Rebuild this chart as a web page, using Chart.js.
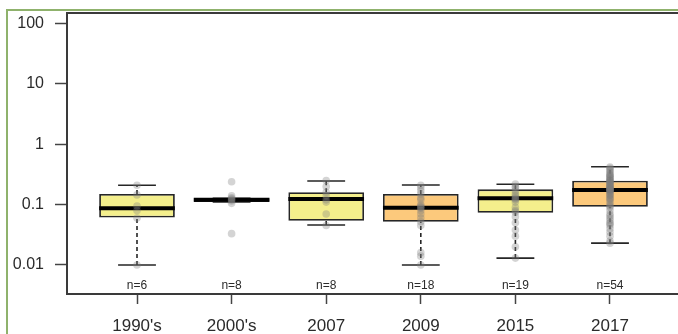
<!DOCTYPE html>
<html>
<head>
<meta charset="utf-8">
<script src="https://cdn.jsdelivr.net/npm/chart.js@4.4.1/dist/chart.umd.min.js"></script>
<style>
  html, body { margin: 0; padding: 0; background: #fff; width: 678px; height: 334px; overflow: hidden; }
  .frame { position: absolute; left: 6px; top: 9px; width: 720px; height: 400px; border-left: 2px solid #8fb26c; border-top: 2px solid #8fb26c; }
  #chart { position: absolute; left: 0; top: 0; }
</style>
</head>
<body>
<div class="frame"></div>
<canvas id="chart" width="700" height="334"></canvas>
<script>
const categories = ["1990's", "2000's", '2007', '2009', '2015', '2017'];
const boxColors = ['#f4ef8c', '#f4ef8c', '#f4ef8c', '#fcc97c', '#f4ef8c', '#fcc97c'];

// box statistics
const whiskerLow = [0.01, 0.111, 0.046, 0.01, 0.013, 0.023];
const q1 = [0.061, 0.111, 0.054, 0.052, 0.073, 0.092];
const median = [0.087, 0.12, 0.124, 0.089, 0.127, 0.175];
const q3 = [0.15, 0.127, 0.16, 0.15, 0.179, 0.249];
const whiskerHigh = [0.21, 0.127, 0.246, 0.211, 0.217, 0.425];

// individual samples (grey dots)
const p1990 = [0.21, 0.145, 0.095, 0.08, 0.06, 0.01];
const p2000 = [0.24, 0.14, 0.13, 0.125, 0.12, 0.115, 0.105, 0.033];
const p2007 = [0.25, 0.2, 0.16, 0.14, 0.12, 0.11, 0.07, 0.045];
const p2009 = [0.21, 0.19, 0.17, 0.15, 0.13, 0.12, 0.1, 0.095, 0.09, 0.088, 0.08, 0.07, 0.06, 0.052, 0.045, 0.016, 0.014, 0.01];
const p2015 = [0.22, 0.2, 0.19, 0.17, 0.15, 0.14, 0.13, 0.125, 0.12, 0.11, 0.09, 0.08, 0.075, 0.063, 0.05, 0.038, 0.03, 0.02, 0.013];
const p2017 = [0.42, 0.4, 0.38, 0.36, 0.34, 0.32, 0.31, 0.3, 0.29, 0.28, 0.27, 0.26, 0.25, 0.25,
  0.24, 0.235, 0.23, 0.22, 0.21, 0.205, 0.2, 0.195, 0.19, 0.185, 0.18, 0.178, 0.176,
  0.174, 0.17, 0.165, 0.16, 0.15, 0.145, 0.14, 0.13, 0.125, 0.12, 0.11, 0.1, 0.095,
  0.09, 0.08, 0.07, 0.065, 0.06, 0.055, 0.05, 0.048, 0.045, 0.04, 0.035, 0.03, 0.025, 0.023];
const samples = [p1990, p2000, p2007, p2009, p2015, p2017];

const yTicks = [0.01, 0.1, 1, 10, 100];
const yTickLabels = ['0.01', '0.1', '1', '10', '100'];
const yMin = 0.0033;
const yMax = 150;
const nLabelY = 0.0045;

const font = "'Liberation Sans', Arial, sans-serif";
const ink = '#262626';
const text = '#2b2b2b';
const xs = categories.map((_, i) => i + 1);
const gap = (x) => ({ x, y: null });
const boxHalf = 0.4;
const capHalf = 0.2;

const whiskers = xs.flatMap((x, i) => [{ x, y: q3[i] }, { x, y: whiskerHigh[i] }, gap(x), { x, y: whiskerLow[i] }, { x, y: q1[i] }, gap(x)]);
const caps = xs.flatMap((x, i) => [
  { x: x - capHalf, y: whiskerHigh[i] }, { x: x + capHalf, y: whiskerHigh[i] }, gap(x),
  { x: x - capHalf, y: whiskerLow[i] }, { x: x + capHalf, y: whiskerLow[i] }, gap(x),
]);
const medians = xs.flatMap((x, i) => [{ x: x - boxHalf, y: median[i] }, { x: x + boxHalf, y: median[i] }, gap(x)]);
const dots = xs.flatMap((x, i) => samples[i].map((y) => ({ x, y })));

const frameAndCounts = {
  id: 'frameAndCounts',
  afterDatasetsDraw(chart) {
    const { ctx, chartArea: a, scales } = chart;
    ctx.save();
    ctx.strokeStyle = '#3a3a3a';
    ctx.lineWidth = 2;
    ctx.strokeRect(a.left, a.top, a.right - a.left, a.bottom - a.top);
    ctx.fillStyle = text;
    ctx.font = `12px ${font}`;
    ctx.textAlign = 'center';
    ctx.textBaseline = 'middle';
    xs.forEach((x, i) => ctx.fillText(`n=${samples[i].length}`, scales.x.getPixelForValue(x), scales.y.getPixelForValue(nLabelY)));
    ctx.restore();
  },
};

new Chart(document.getElementById('chart'), {
  type: 'bar',
  data: {
    datasets: [
      { type: 'scatter', data: dots, backgroundColor: 'rgba(125,125,125,.33)', borderWidth: 0, pointRadius: 3.8, order: 1 },
      { type: 'line', data: medians, borderColor: '#000', borderWidth: 4, pointRadius: 0, spanGaps: false, order: 2 },
      { type: 'line', data: caps, borderColor: ink, borderWidth: 1.6, pointRadius: 0, spanGaps: false, order: 3 },
      { type: 'line', data: whiskers, borderColor: ink, borderWidth: 1.6, borderDash: [4, 3], pointRadius: 0, spanGaps: false, order: 4 },
      {
        type: 'bar', data: xs.map((x, i) => ({ x, y: [q1[i], q3[i]] })),
        backgroundColor: boxColors, borderColor: ink, borderWidth: 1.8, borderSkipped: false,
        barPercentage: 0.8, categoryPercentage: 1, order: 5,
      },
    ],
  },
  options: {
    responsive: false,
    animation: false,
    devicePixelRatio: 1,
    layout: { padding: { left: 0, top: 13, right: 20, bottom: 0 } },
    plugins: { legend: { display: false }, tooltip: { enabled: false } },
    scales: {
      x: {
        type: 'linear', min: 0.26, max: 6.74, offset: false,
        afterBuildTicks: (s) => { s.ticks = xs.map((value) => ({ value })); },
        afterFit: (s) => { s.height = 40; s.paddingLeft = 0; s.paddingRight = 0; },
        border: { display: false },
        grid: { offset: false, drawOnChartArea: false, drawTicks: true, tickLength: 10, tickColor: '#444', tickWidth: 1.5 },
        ticks: { color: text, padding: 12, font: { family: font, size: 17 }, maxRotation: 0, callback: (v) => categories[v - 1] ?? '' },
      },
      y: {
        type: 'logarithmic', min: yMin, max: yMax,
        afterBuildTicks: (s) => { s.ticks = yTicks.map((value) => ({ value })); },
        afterFit: (s) => { s.width = 67; s.paddingTop = 0; s.paddingBottom = 0; },
        border: { display: false },
        grid: { drawOnChartArea: false, drawTicks: true, tickLength: 12, tickColor: '#444', tickWidth: 1.5 },
        ticks: { color: text, padding: 11, font: { family: font, size: 16 }, callback: (v) => yTickLabels[yTicks.indexOf(v)] ?? '' },
      },
    },
  },
  plugins: [frameAndCounts],
});
</script>
</body>
</html>
